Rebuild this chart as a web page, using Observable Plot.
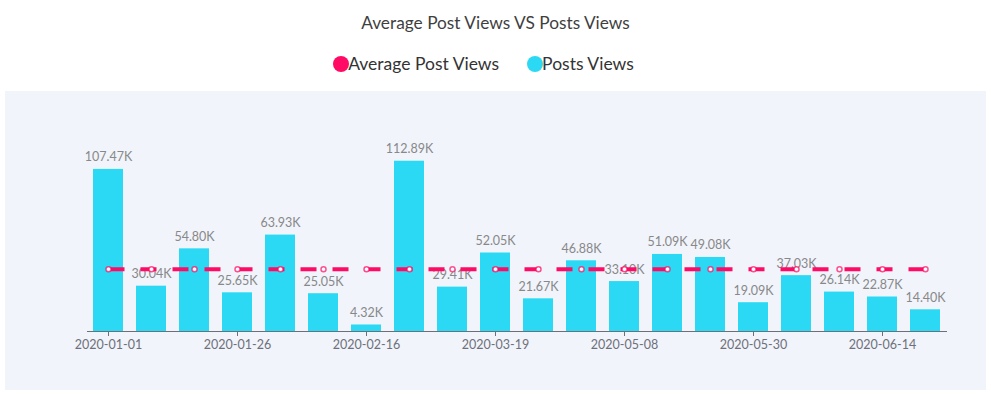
<!DOCTYPE html>
<html>
<head>
<meta charset="utf-8">
<script src="https://cdn.jsdelivr.net/npm/d3@7"></script>
<script src="https://cdn.jsdelivr.net/npm/@observablehq/plot@0.6"></script>
<style>
  html, body { margin: 0; padding: 0; background: #ffffff; }
  body { width: 991px; height: 394px; position: relative; font-family: Lato, "Open Sans", sans-serif; }
  #title { position: absolute; top: 12px; left: 0; width: 991px; text-align: center; font-size: 17.3px; color: #3f3f3f; }
  #legend { position: absolute; top: 53px; left: -12px; width: 991px; display: flex; justify-content: center; font-size: 17.5px; color: #333; }
  .item { display: flex; align-items: center; margin: 0 14px; }
  .sw { width: 16px; height: 16px; border-radius: 50%; margin-right: -1px; }
  #panel { position: absolute; left: 5px; top: 91px; width: 981px; height: 299px; background: #f1f4fb; }
</style>
</head>
<body>
<div id="title">Average Post Views VS Posts Views</div>
<div id="legend">
  <div class="item"><span class="sw" style="background:#ff0a64"></span><span>Average Post Views</span></div>
  <div class="item"><span class="sw" style="background:#2cd9f4"></span><span>Posts Views</span></div>
</div>
<div id="panel"></div>
<script>
const dates = ["2020-01-01","2020-01-08","2020-01-17","2020-01-26","2020-02-02","2020-02-09","2020-02-16","2020-02-25","2020-03-06","2020-03-19","2020-04-02","2020-04-20","2020-05-08","2020-05-15","2020-05-22","2020-05-30","2020-06-04","2020-06-09","2020-06-14","2020-06-21"];
const postViews = [107.47, 30.04, 54.80, 25.65, 63.93, 25.05, 4.32, 112.89, 29.41, 52.05, 21.67, 46.88, 33.10, 51.09, 49.08, 19.09, 37.03, 26.14, 22.87, 14.40];
const avgViews = [41.35, 41.35, 41.35, 41.35, 41.35, 41.35, 41.35, 41.35, 41.35, 41.35, 41.35, 41.35, 41.35, 41.35, 41.35, 41.35, 41.35, 41.35, 41.35, 41.35];
const tickLabels = ["2020-01-01","2020-01-26","2020-02-16","2020-03-19","2020-05-08","2020-05-30","2020-06-14"];

const pink = "#ff0a64";
const cyan = "#2cd9f4";

const data = dates.map((d, i) => ({date: d, views: postViews[i], avg: avgViews[i]}));

const chart = Plot.plot({
  width: 981,
  height: 299,
  marginLeft: 82,
  marginRight: 39,
  marginTop: 59,
  marginBottom: 59,
  style: {background: "transparent", fontFamily: "Lato, 'Open Sans', sans-serif"},
  x: {domain: dates, paddingInner: 0.3, paddingOuter: 0.15, axis: null},
  y: {domain: [0, 120], axis: null},
  marks: [
    Plot.barY(data, {x: "date", y: "views", fill: cyan}),
    Plot.ruleY([0], {stroke: "#6e7079", strokeWidth: 1}),
    Plot.axisX(tickLabels, {tickSize: 5, tickPadding: 4, stroke: "#6e7079", fill: "#6e7079", fontSize: 12.5, label: null}),
    Plot.text(data, {x: "date", y: "views", text: d => d.views.toFixed(2) + "K", dy: -12, fill: "#888", fontSize: 12.5}),
    Plot.lineY(data, {x: "date", y: "avg", stroke: pink, strokeWidth: 4, strokeDasharray: "16,16", strokeLinecap: "butt"}),
    Plot.dot(data, {x: "date", y: "avg", r: 2.5, fill: "white", stroke: pink, strokeOpacity: 0.7, strokeWidth: 1.5})
  ]
});
document.getElementById("panel").appendChild(chart);
</script>
</body>
</html>
